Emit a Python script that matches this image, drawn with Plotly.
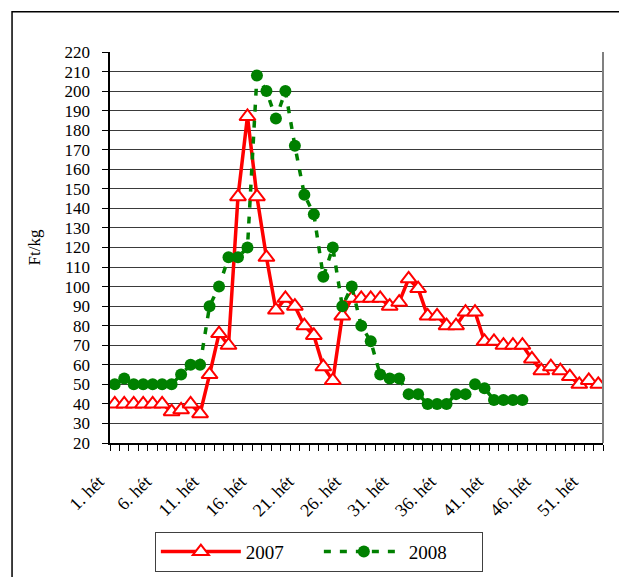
import plotly.graph_objects as go

weeks = list(range(1, 53))
tick_weeks = [1, 6, 11, 16, 21, 26, 31, 36, 41, 46, 51]
tick_labels = [f"{w}. hét" for w in tick_weeks]

y2007 = [40, 40, 40, 40, 40, 40, 36, 37, 40, 35,
         55, 76, 70, 146, 187, 146, 115, 88, 94, 90,
         80, 75, 59, 52, 85, 94, 94, 94, 94, 90,
         92, 104, 99, 85, 85, 80, 80, 87, 87, 72,
         72, 70, 70, 70, 63, 57, 59, 57, 54, 50,
         52, 50]
y2008 = [50, 53, 50, 50, 50, 50, 50, 55, 60, 60,
         90, 100, 115, 115, 120, 208, 200, 186, 200, 172,
         147, 137, 105, 120, 90, 100, 80, 72, 55, 53,
         53, 45, 45, 40, 40, 40, 45, 45, 50, 48,
         42, 42, 42, 42]

FONT = "Liberation Serif"

fig = go.Figure()
fig.add_trace(go.Scatter(
    x=weeks[:len(y2007)], y=y2007, name="2007", mode="lines+markers",
    line=dict(color="#FF0000", width=3.5),
    marker=dict(symbol="triangle-up", size=14, color="white",
                line=dict(color="#FF0000", width=2)),
))
fig.add_trace(go.Scatter(
    x=weeks[:len(y2008)], y=y2008, name="2008", mode="lines+markers",
    line=dict(color="#008000", width=3.5, dash="7px,9px"),
    marker=dict(symbol="circle", size=12, color="#008000"),
))

fig.update_layout(
    width=619, height=569,
    margin=dict(l=102, r=24, t=44, b=134, autoexpand=False),
    paper_bgcolor="white", plot_bgcolor="white",
    font=dict(family=FONT, size=17, color="black"),
    showlegend=True,
    legend=dict(orientation="h", x=0.091, y=-0.227, xanchor="left", yanchor="top",
                bordercolor="#404040", borderwidth=1, bgcolor="white",
                font=dict(family=FONT, size=19),
                entrywidth=68, entrywidthmode="pixels",
                itemwidth=80, traceorder="normal"),
    xaxis=dict(
        range=[0.5, 52.5], tickmode="array", tickvals=tick_weeks, ticktext=tick_labels,
        tickangle=-45, ticks="", showgrid=False, zeroline=False,
        showline=True, linecolor="black", linewidth=2, mirror=False,
        ticklabelstandoff=19, ticklabelshift=-16,
        minor=dict(ticks="outside", tick0=0.5, dtick=1, ticklen=6,
                   tickcolor="black", tickwidth=1, showgrid=False),
        tickfont=dict(family=FONT, size=18),
    ),
    yaxis=dict(
        range=[20, 220], tickmode="linear", tick0=20, dtick=10,
        ticks="outside", ticklen=6, tickcolor="black", tickwidth=1,
        showgrid=True, gridcolor="#3a3a3a", gridwidth=1,
        zeroline=False, showline=True, linecolor="black", linewidth=2,
        ticksuffix="\u00a0\u00a0",
        tickfont=dict(family=FONT, size=17),
        title=dict(text="Ft/kg", standoff=20, font=dict(family=FONT, size=17)),
    ),
    shapes=[
        dict(type="line", xref="paper", yref="paper", x0=1, x1=1, y0=0, y1=1,
             line=dict(color="#808080", width=2)),
        dict(type="rect", xref="paper", yref="paper",
             x0=-0.1987, x1=1.0353, y0=-0.40, y1=1.103,
             line=dict(color="black", width=1.5), layer="below"),
    ],
)

fig.write_html("out.html")
